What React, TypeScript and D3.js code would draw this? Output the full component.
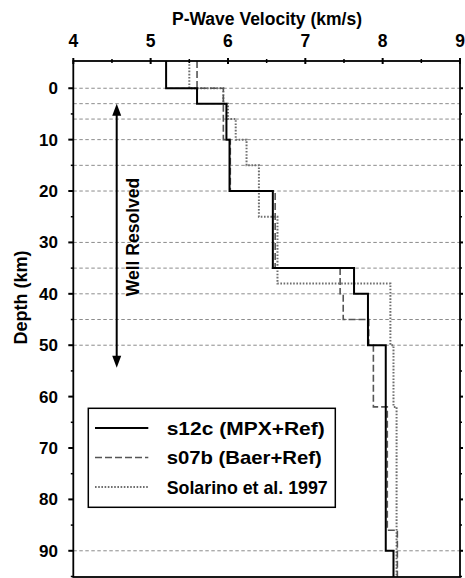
import React from "react";
import * as d3 from "d3";

const W = 465;
const H = 578;

// velocity axis (km/s) and depth axis (km)
const velTicks = [4, 5, 6, 7, 8, 9];
const velMinorTicks = [4.5, 5.5, 6.5, 7.5, 8.5];
const depthLabels = [0, 10, 20, 30, 40, 50, 60, 70, 80, 90];
const depthMinorTicks = [5, 15, 25, 35, 45, 55, 65, 75, 85, 95];
const gridDepths = [0, 3, 6, 10, 15, 20, 30, 35, 40, 45, 50, 90];

// layered models: interface depths and layer velocities (one more velocity than interfaces)
const s12cInterfaces = [0, 3, 10, 20, 35, 40, 50, 90];
const s12cVelocities = [5.2, 5.6, 5.98, 6.02, 6.58, 7.63, 7.81, 8.04, 8.14];

const s07bInterfaces = [0, 10, 20, 35, 40, 45, 50, 62, 86];
const s07bVelocities = [5.6, 5.94, 6.03, 6.61, 7.45, 7.49, 7.82, 7.88, 8.06, 8.19];

const solarinoInterfaces = [0, 3, 6, 10, 15, 25, 38, 50, 62];
const solarinoVelocities = [5.5, 5.94, 6.0, 6.1, 6.24, 6.4, 6.64, 8.1, 8.14, 8.18];

const legendLabels = ["s12c (MPX+Ref)", "s07b (Baer+Ref)", "Solarino et al. 1997"];

const depthDomain: [number, number] = [-5.3, 95.1];
const velDomain: [number, number] = [4, 9];

const FONT = "'Liberation Sans', Arial, Helvetica, sans-serif";

export default function App() {
  const left = 73.3;
  const right = 460;
  const top = 61;
  const bottom = 577;

  const x = d3.scaleLinear().domain(velDomain).range([left, right]);
  const y = d3.scaleLinear().domain(depthDomain).range([top, bottom]);

  const stepPoints = (ifs: number[], vels: number[]): [number, number][] => {
    const bounds = [depthDomain[0], ...ifs, depthDomain[1]];
    const pts: [number, number][] = [];
    vels.forEach((v, i) => {
      pts.push([v, bounds[i]]);
      pts.push([v, bounds[i + 1]]);
    });
    return pts;
  };

  const line = d3
    .line<[number, number]>()
    .x((d) => x(d[0]))
    .y((d) => y(d[1]));

  const series = [
    { key: "solarino", pts: stepPoints(solarinoInterfaces, solarinoVelocities), stroke: "#6e6e6e", width: 2, dash: "1.6,1.6" },
    { key: "s07b", pts: stepPoints(s07bInterfaces, s07bVelocities), stroke: "#555", width: 1.6, dash: "7,3" },
    { key: "s12c", pts: stepPoints(s12cInterfaces, s12cVelocities), stroke: "#000", width: 2, dash: undefined },
  ];

  const arrowX = 116.7;
  const arrowTop = y(3);
  const arrowBot = y(54.4);

  const legX = 88.3;
  const legY = 408.3;
  const legW = 247;
  const legH = 99;
  const legRows = [428, 457.5, 487];
  const legTextLen = [158, 155, 161];
  const legStyles = [series[2], series[1], series[0]];

  return (
    <svg
      width={W}
      height={H}
      style={{ position: "absolute", left: 0, top: 0, background: "#fff" }}
      fontFamily={FONT}
    >
      <rect x={0} y={0} width={W} height={H} fill="#fff" />
      {/* grid lines */}
      {gridDepths.map((d) => (
        <line
          key={"g" + d}
          x1={left}
          x2={right}
          y1={y(d)}
          y2={y(d)}
          stroke="#8c8c8c"
          strokeWidth={1}
          strokeDasharray="3.5,2.5"
        />
      ))}

      {/* series */}
      {series.map((s) => (
        <path
          key={s.key}
          d={line(s.pts) || ""}
          fill="none"
          stroke={s.stroke}
          strokeWidth={s.width}
          strokeDasharray={s.dash}
        />
      ))}

      {/* frame */}
      <rect x={left} y={top} width={right - left} height={bottom - top} fill="none" stroke="#000" strokeWidth={1.8} />

      {/* top axis ticks */}
      {velTicks.map((v) => (
        <g key={"vt" + v}>
          <line x1={x(v)} x2={x(v)} y1={top - 3} y2={top + 3} stroke="#000" strokeWidth={2} />
          <text x={x(v)} y={47} textAnchor="middle" fontSize={17.5} fontWeight="bold">
            {v}
          </text>
        </g>
      ))}
      {velMinorTicks.map((v) => (
        <line key={"vm" + v} x1={x(v)} x2={x(v)} y1={top - 2} y2={top + 2} stroke="#000" strokeWidth={1.5} />
      ))}
      <text x={267} y={25} textAnchor="middle" fontSize={17.5} fontWeight="bold">
        P-Wave Velocity (km/s)
      </text>

      {/* left/right axis ticks */}
      {depthLabels.map((d) => (
        <g key={"dl" + d}>
          <line x1={left - 5} x2={left} y1={y(d)} y2={y(d)} stroke="#000" strokeWidth={2} />
          <line x1={right} x2={right + 3} y1={y(d)} y2={y(d)} stroke="#000" strokeWidth={2} />
          <text x={58} y={y(d) + 6} textAnchor="end" fontSize={17} fontWeight="bold">
            {d}
          </text>
        </g>
      ))}
      {depthMinorTicks.map((d) => (
        <g key={"dm" + d}>
          <line x1={left - 2.5} x2={left} y1={y(d)} y2={y(d)} stroke="#000" strokeWidth={1.5} />
          <line x1={right} x2={right + 2} y1={y(d)} y2={y(d)} stroke="#000" strokeWidth={1.5} />
        </g>
      ))}
      <text
        transform={`translate(27,297.5) rotate(-90)`}
        textAnchor="middle"
        fontSize={18}
        fontWeight="bold"
      >
        Depth (km)
      </text>

      {/* well resolved arrow */}
      <line x1={arrowX} x2={arrowX} y1={arrowTop + 8} y2={arrowBot - 8} stroke="#000" strokeWidth={2} />
      <path d={`M${arrowX},${arrowTop} L${arrowX - 4.5},${arrowTop + 12} L${arrowX + 4.5},${arrowTop + 12} Z`} fill="#000" />
      <path d={`M${arrowX},${arrowBot} L${arrowX - 4.5},${arrowBot - 12} L${arrowX + 4.5},${arrowBot - 12} Z`} fill="#000" />
      <text
        transform={`translate(139,237) rotate(-90)`}
        textAnchor="middle"
        fontSize={17.5}
        fontWeight="bold"
      >
        Well Resolved
      </text>

      {/* legend */}
      <rect x={legX} y={legY} width={legW} height={legH} fill="#fff" stroke="#000" strokeWidth={1.5} />
      {legendLabels.map((lab, i) => (
        <g key={lab}>
          <line
            x1={95}
            x2={148.3}
            y1={legRows[i]}
            y2={legRows[i]}
            stroke={legStyles[i].stroke}
            strokeWidth={legStyles[i].width}
            strokeDasharray={legStyles[i].dash}
          />
          <text
            x={166.7}
            y={legRows[i] + 6.5}
            fontSize={18.5}
            fontWeight="bold"
            textLength={legTextLen[i]}
            lengthAdjust="spacingAndGlyphs"
          >
            {lab}
          </text>
        </g>
      ))}
    </svg>
  );
}
